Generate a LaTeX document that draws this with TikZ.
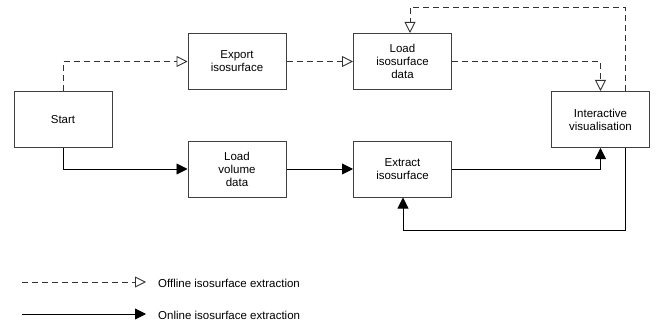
\documentclass[tikz,border=0pt]{standalone}
\usepackage{fontspec}
\setmainfont{Liberation Sans}
\usetikzlibrary{arrows.meta}
\begin{document}
\begin{tikzpicture}[x=1pt,y=-1pt,
  box/.style={draw=black!75,line width=1pt,rectangle,minimum width=98pt,minimum height=56pt,
    align=center,inner sep=2pt,font=\fontsize{11.5}{13}\selectfont},
  offline/.style={draw=black!80,line width=0.9pt,dash pattern=on 6pt off 4pt,
    -{Triangle[open,length=11pt,width=11pt,line width=0.9pt]}},
  online/.style={draw=black,line width=0.9pt,-{Triangle[length=11pt,width=11pt]}},
  lbl/.style={anchor=west,inner sep=0pt,font=\fontsize{11.5}{13}\selectfont}]
\useasboundingbox (0,0) rectangle (662,329);
\node[box] (start) at (63,119.5) {Start};
\node[box] (export) at (237,61.5) {Export\\isosurface};
\node[box] (loadvol) at (237,169) {Load\\volume\\data};
\node[box] (loadiso) at (402.5,61.5) {Load\\isosurface\\data};
\node[box] (extract) at (402.5,169) {Extract\\isosurface};
\node[box] (inter) at (600.5,119.5) {Interactive\\visualisation};
% offline
\draw[offline] (start.north) |- (export.west);
\draw[offline] (export.east) -- (loadiso.west);
\draw[offline] (loadiso.east) -| (inter.north);
\coordinate (fbA) at ([xshift=24.5pt]inter.north);
\coordinate (fbB) at ([xshift=7.5pt]loadiso.north);
\draw[offline] (fbA) -- ++(0,-84) -| (fbB);
% online
\draw[online] (start.south) |- (loadvol.west);
\draw[online] (loadvol.east) -- (extract.west);
\draw[online] (extract.east) -| (inter.south);
\coordinate (bkA) at ([xshift=24.5pt]inter.south);
\coordinate (bkB) at ([xshift=0.5pt]extract.south);
\draw[online] (bkA) -- ++(0,82) -| (bkB);
% legend
\coordinate (l1a) at (22,282);
\coordinate (l1b) at (146,282);
\coordinate (l2a) at (22,314);
\coordinate (l2b) at (146,314);
\draw[offline] (l1a) -- (l1b);
\draw[online] (l2a) -- (l2b);
\node[lbl] (t1) at (158,283) {Offline isosurface extraction};
\node[lbl] (t2) at (158,315) {Online isosurface extraction};
\end{tikzpicture}
\end{document}
